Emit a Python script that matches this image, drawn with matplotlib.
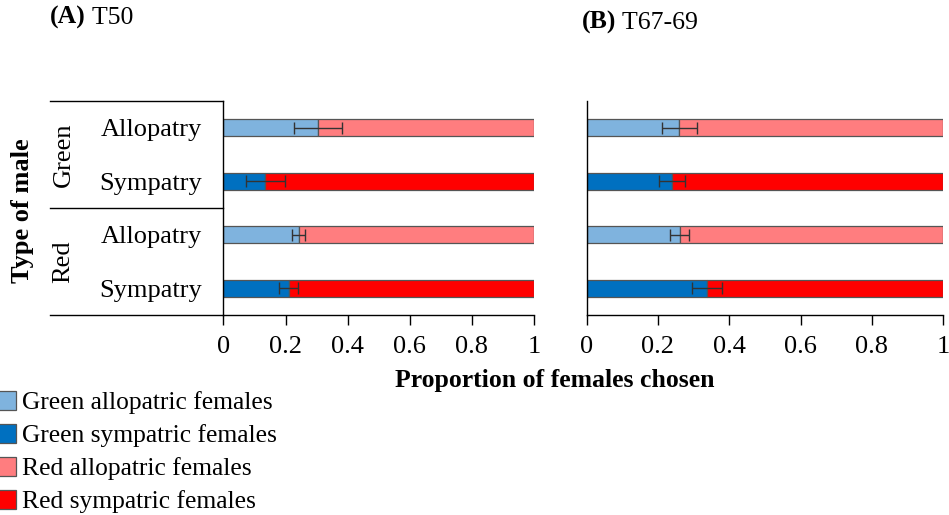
import numpy as np
import matplotlib
matplotlib.use("Agg")
import matplotlib.pyplot as plt
from matplotlib.patches import Patch

plt.rcParams["font.family"] = ["Liberation Serif", "DejaVu Serif"]
plt.rcParams["font.size"] = 19

# Rows top to bottom: male type x origin
ROW_LABELS = ["Allopatry", "Sympatry", "Allopatry", "Sympatry"]
GROUP_LABELS = ["Green", "Red"]
ROW_IS_SYMPATRY = [False, True, False, True]

# Proportion of green females chosen (rest = red females) and error bars
GREEN_T50 = [0.304, 0.135, 0.242, 0.21]
ERR_T50 = [0.077, 0.062, 0.02, 0.031]
GREEN_T67 = [0.26, 0.24, 0.261, 0.338]
ERR_T67 = [0.05, 0.036, 0.026, 0.042]

XTICKS = [0, 0.2, 0.4, 0.6, 0.8, 1]
XTICK_LABELS = ["0", "0.2", "0.4", "0.6", "0.8", "1"]

LEGEND_LABELS = [
    "Green allopatric females",
    "Green sympatric females",
    "Red allopatric females",
    "Red sympatric females",
]
C_GREEN_ALLO = "#7fb3de"
C_GREEN_SYM = "#0070c0"
C_RED_ALLO = "#ff7d7f"
C_RED_SYM = "#ff0000"
EDGE = "#555555"

fig = plt.figure(figsize=(9.49, 5.15), dpi=100)
ax_a = fig.add_axes([0.2355, 0.3883, 0.3272, 0.4155])
ax_b = fig.add_axes([0.6182, 0.3883, 0.3758, 0.4155])


def draw_panel(ax, green, err):
    y = np.arange(len(green))
    green = np.array(green)
    red = 1 - green
    left_cols = [C_GREEN_SYM if s else C_GREEN_ALLO for s in ROW_IS_SYMPATRY]
    right_cols = [C_RED_SYM if s else C_RED_ALLO for s in ROW_IS_SYMPATRY]
    ax.barh(y, green, height=0.32, color=left_cols, edgecolor=EDGE, linewidth=0.9)
    ax.barh(y, red, left=green, height=0.32, color=right_cols,
            edgecolor=EDGE, linewidth=0.9)
    ax.errorbar(green, y, xerr=err, fmt="none", ecolor="#333333",
                elinewidth=1.0, capsize=4, capthick=1.0)
    ax.set_xlim(0, 1)
    ax.set_ylim(3.5, -0.5)
    ax.set_xticks(XTICKS)
    ax.set_xticklabels(XTICK_LABELS)
    ax.tick_params(axis="x", length=7, width=1, pad=8, labelsize=19)
    for s in ["top", "right"]:
        ax.spines[s].set_visible(False)
    ax.spines["left"].set_linewidth(1.0)
    ax.spines["bottom"].set_linewidth(1.0)


draw_panel(ax_a, GREEN_T50, ERR_T50)
draw_panel(ax_b, GREEN_T67, ERR_T67)

ax_a.set_yticks(np.arange(len(ROW_LABELS)))
ax_a.set_yticklabels(ROW_LABELS)
ax_a.tick_params(axis="y", length=0, pad=15.5, labelsize=19)
ax_b.set_yticks([])

# group table lines to the left of panel A
x0 = -0.559
for yy in [1.0, 0.5, 0.0]:
    ax_a.plot([x0, 0], [yy, yy], color="black", lw=1.0,
              transform=ax_a.transAxes, clip_on=False)
for i, g in enumerate(GROUP_LABELS):
    ax_a.text(-0.515, 0.75 - 0.5 * i, g, rotation=90, ha="center", va="center",
              transform=ax_a.transAxes, fontsize=19)

fig.text(0.024, 0.59, "Type of male", rotation=90, ha="center", va="center",
         fontsize=19, fontweight="bold")
fig.text(0.585, 0.262, "Proportion of females chosen", ha="center",
         va="center", fontsize=18.5, fontweight="bold")

# panel titles: bold letter, regular generation label
ta = fig.text(0.053, 0.966, "(A)", fontweight="bold", fontsize=18.5,
              ha="left", va="center")
ax_a.annotate(" T50", xy=(1, 0), xycoords=ta, va="bottom", ha="left",
              fontsize=18.5, annotation_clip=False)
tb = fig.text(0.613, 0.957, "(B)", fontweight="bold", fontsize=18.5,
              ha="left", va="center")
ax_b.annotate(" T67-69", xy=(1, 0), xycoords=tb, va="bottom", ha="left",
              fontsize=18.5, annotation_clip=False)

handles = [Patch(facecolor=c, edgecolor=EDGE, linewidth=0.9)
           for c in [C_GREEN_ALLO, C_GREEN_SYM, C_RED_ALLO, C_RED_SYM]]
fig.legend(handles, LEGEND_LABELS, loc="upper left",
           bbox_to_anchor=(-0.003, 1 - 391 / 515), frameon=False,
           fontsize=18.4, handlelength=0.75, handleheight=0.75,
           handletextpad=0.22, labelspacing=0.38, borderpad=0,
           borderaxespad=0)

fig.savefig("out.png", dpi=100)
